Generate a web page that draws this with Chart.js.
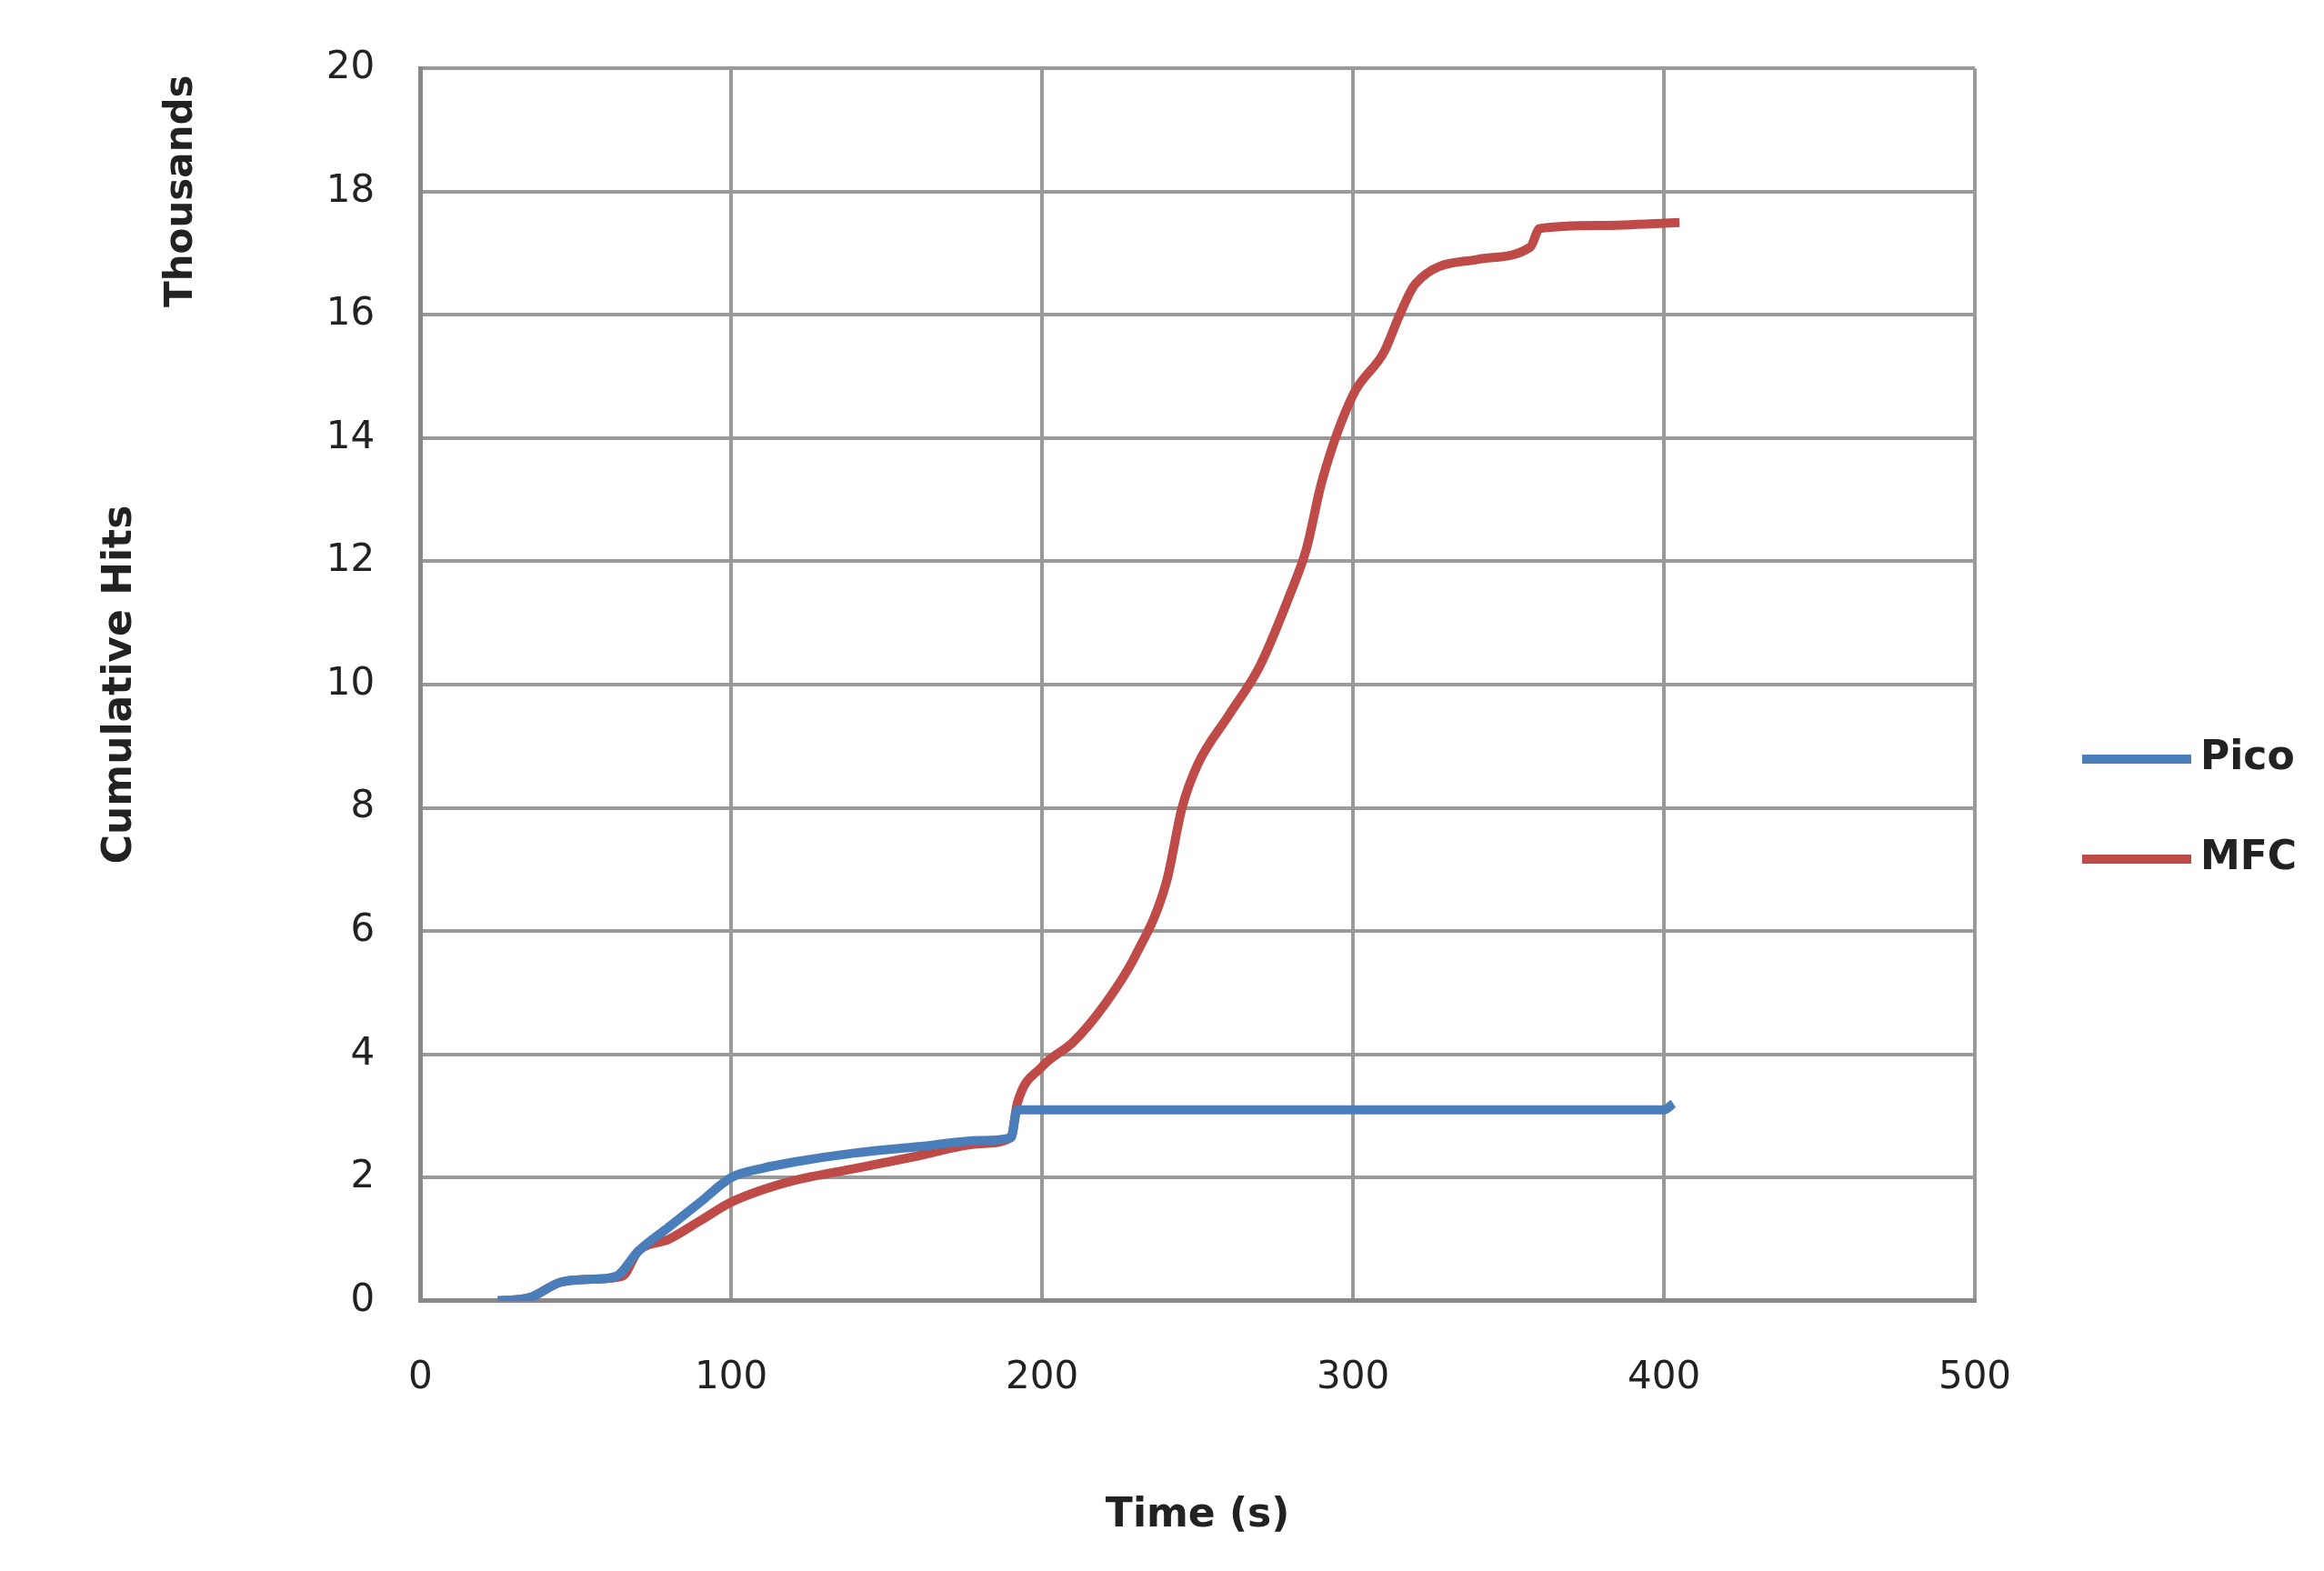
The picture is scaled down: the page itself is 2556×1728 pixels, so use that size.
<!DOCTYPE html>
<html><head><meta charset="utf-8">
<script src="https://cdn.jsdelivr.net/npm/chart.js@4/dist/chart.umd.min.js"></script>
<style>html,body{margin:0;background:#fff}#wrap{width:2556px;height:1728px}</style>
</head><body><div id="wrap"><canvas id="c"></canvas></div>
<script>
const picoX = [25,35,45,55,63,70,80,90,100,110,120,140,160,180,190,192,200,300,400,403]
const picoY = [0,0.05,0.3,0.35,0.4,0.8,1.2,1.6,2.0,2.15,2.25,2.4,2.5,2.6,2.65,3.1,3.1,3.1,3.1,3.2]
const mfcX = [25,35,45,55,65,70,80,90,100,110,120,140,160,180,190,192,200,210,220,230,240,245,250,260,270,280,285,290,300,310,315,320,340,357,360,380,405]
const mfcY = [0,0.05,0.3,0.35,0.4,0.8,1.0,1.3,1.6,1.8,1.95,2.15,2.35,2.55,2.65,3.2,3.8,4.2,4.8,5.6,6.8,8.0,8.7,9.5,10.3,11.5,12.2,13.3,14.7,15.4,16.0,16.5,16.9,17.1,17.4,17.45,17.5]
const seriesNames = ['Pico', 'MFC']
const colors = ['#4a7ebb', '#be4b48']

const font = 'DejaVu Sans'
const pts = (xs, ys) => xs.map((x, i) => ({x, y: ys[i]}))

const extras = {
  id: 'extras',
  afterDraw(chart) {
    const ctx = chart.ctx, a = chart.chartArea
    ctx.save()
    ctx.font = 'bold 42px "' + font + '"'
    ctx.fillStyle = '#222'
    ctx.translate(200, a.top + 135)
    ctx.rotate(-Math.PI / 2)
    ctx.textAlign = 'center'
    ctx.textBaseline = 'middle'
    ctx.fillText('Thousands', 0, 0)
    ctx.restore()
    // legend
    ctx.save()
    ctx.font = 'bold 44px "' + font + '"'
    ctx.textBaseline = 'middle'
    seriesNames.forEach((n, i) => {
      const y = 835 + i * 110
      ctx.strokeStyle = colors[i]
      ctx.lineWidth = 10
      ctx.beginPath(); ctx.moveTo(2290, y); ctx.lineTo(2410, y); ctx.stroke()
      ctx.fillStyle = '#222'
      ctx.fillText(n, 2420, y)
    })
    ctx.restore()
  }
}

new Chart(document.getElementById('c'), {
  type: 'line',
  data: {datasets: [
    {label: seriesNames[0], data: pts(picoX, picoY), borderColor: colors[0], borderWidth: 10, pointRadius: 0, cubicInterpolationMode: 'monotone', fill: false},
    {label: seriesNames[1], data: pts(mfcX, mfcY), borderColor: colors[1], borderWidth: 10, pointRadius: 0, cubicInterpolationMode: 'monotone', fill: false}
  ]},
  options: {
    responsive: true, maintainAspectRatio: false, animation: false,
    layout: {padding: {left: 102, right: 384, top: 50, bottom: 30}},
    plugins: {legend: {display: false}, tooltip: {enabled: false}},
    scales: {
      x: {type: 'linear', min: 0, max: 500,
        ticks: {stepSize: 100, color: '#222', font: {family: font, size: 42}, padding: 60},
        grid: {color: '#999', lineWidth: 4, drawTicks: false},
        border: {color: '#888', width: 5},
        title: {display: true, text: 'Time (s)', color: '#222', font: {family: font, size: 44, weight: 'bold'}, padding: {top: 40}}},
      y: {min: 0, max: 20,
        ticks: {stepSize: 2, color: '#222', font: {family: font, size: 42}, padding: 50},
        grid: {color: '#999', lineWidth: 4, drawTicks: false},
        border: {color: '#888', width: 5},
        title: {display: true, text: 'Cumulative Hits', color: '#222', font: {family: font, size: 44, weight: 'bold'}, padding: {bottom: 150}}}
    }
  },
  plugins: [extras]
})
</script></body></html>
